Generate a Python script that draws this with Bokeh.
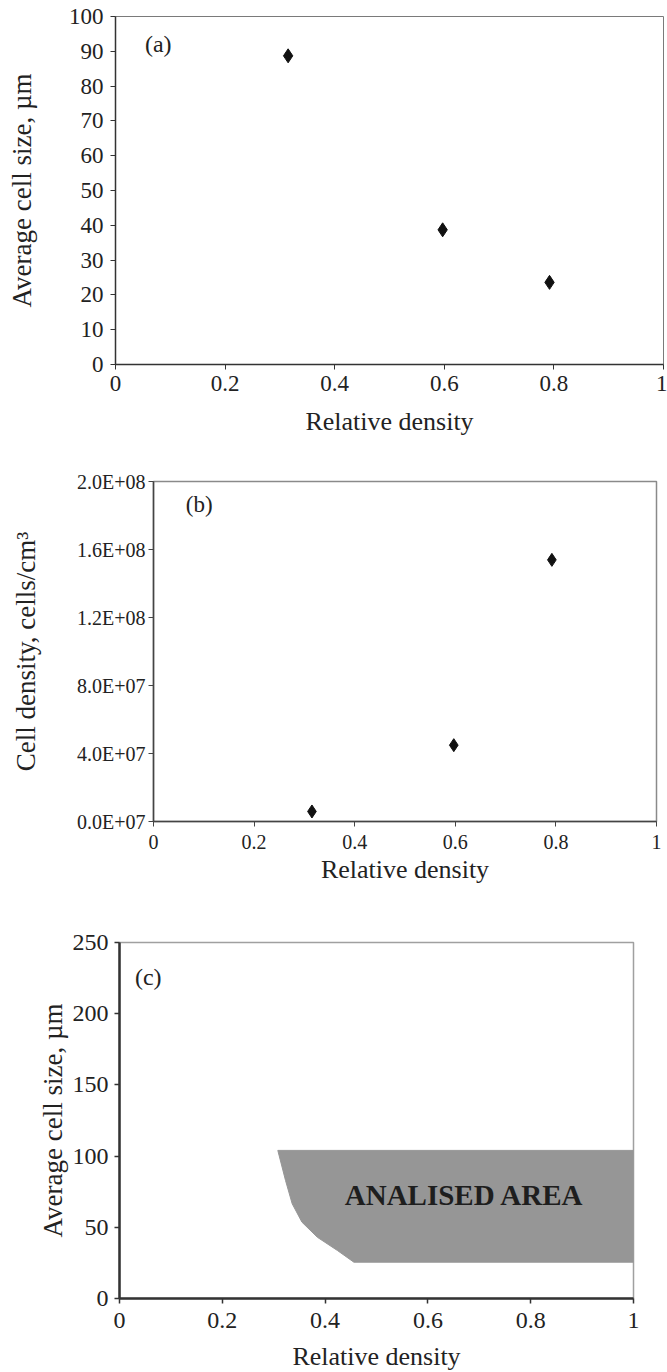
from bokeh.plotting import figure
from bokeh.models import Range1d, FixedTicker, Label
from bokeh.embed import file_html
from bokeh.resources import INLINE

# ---------------- data ----------------
rel_density = [0.315, 0.597, 0.792]
avg_cell_size = [88.7, 38.7, 23.6]
cell_density = [5.9e6, 4.49e7, 1.539e8]

area_x = [0.308, 1.0, 1.0, 0.456, 0.424, 0.385, 0.355, 0.336, 0.323]
area_y = [104.0, 104.0, 25.5, 25.5, 33.7, 43.0, 53.6, 66.5, 82.9]

x_ticks = [0, 0.2, 0.4, 0.6, 0.8, 1.0]
x_tick_labels = ["0", "0.2", "0.4", "0.6", "0.8", "1"]
a_yticks = [0, 10, 20, 30, 40, 50, 60, 70, 80, 90, 100]
b_yticks = [0, 4e7, 8e7, 1.2e8, 1.6e8, 2e8]
b_ytick_labels = ["0.0E+07", "4.0E+07", "8.0E+07", "1.2E+08", "1.6E+08", "2.0E+08"]
c_yticks = [0, 50, 100, 150, 200, 250]

FONT = "Liberation Serif"
TXT = "#222222"


def make_fig(fw, fh, left, right, top, bottom, yr):
    p = figure(frame_width=fw, frame_height=fh,
               min_border_left=left, min_border_right=right,
               min_border_top=top, min_border_bottom=bottom,
               x_range=Range1d(0, 1), y_range=yr,
               output_backend="svg", toolbar_location=None,
               background_fill_color="white", border_fill_color="white")
    p.xgrid.visible = False
    p.ygrid.visible = False
    for ax in (p.xaxis[0], p.yaxis[0]):
        ax.major_label_text_font = FONT
        ax.axis_label_text_font = FONT
        ax.axis_label_text_font_style = "normal"
        ax.major_label_text_color = TXT
        ax.axis_label_text_color = TXT
        ax.minor_tick_line_color = None
        ax.major_tick_in = 0
        ax.major_tick_out = 5
    p.xaxis[0].ticker = FixedTicker(ticks=x_ticks)
    p.xaxis[0].major_label_overrides = {t: l for t, l in zip(x_ticks, x_tick_labels)}
    p.xaxis[0].axis_label = "Relative density"
    p.xaxis[0].axis_label_text_font_size = "26px"
    p.yaxis[0].axis_label_text_font_size = "27px"
    return p


# ---------------- panel (a) ----------------
pa = make_fig(548, 348, 115, 4, 16, 86, Range1d(0, 100))
pa.yaxis[0].ticker = FixedTicker(ticks=a_yticks)
pa.yaxis[0].axis_label = "Average cell size, \u00b5m"
for ax in (pa.xaxis[0], pa.yaxis[0]):
    ax.major_label_text_font_size = "23px"
    ax.axis_line_color = "#333333"
    ax.axis_line_width = 1.5
    ax.major_tick_line_color = "#333333"
pa.xaxis[0].major_label_standoff = 6
pa.xaxis[0].axis_label_standoff = 13
pa.yaxis[0].major_label_standoff = 7
pa.yaxis[0].axis_label_standoff = 29
pa.outline_line_color = "#7a7a7a"
pa.outline_line_width = 1
pa.scatter(rel_density, avg_cell_size, marker="diamond", size=14,
           fill_color="#111111", line_color="#111111")
pa.add_layout(Label(x=0.078, y=92, text="(a)", text_font=FONT, text_font_size="24px",
                    text_color=TXT, text_align="center", text_baseline="middle"))

# ---------------- panel (b) ----------------
pb = make_fig(503, 340, 153, 11, 31, 89, Range1d(0, 2e8))
pb.yaxis[0].ticker = FixedTicker(ticks=b_yticks)
pb.yaxis[0].major_label_overrides = {t: l for t, l in zip(b_yticks, b_ytick_labels)}
pb.yaxis[0].axis_label = "Cell density, cells/cm\u00b3"
for ax in (pb.xaxis[0], pb.yaxis[0]):
    ax.major_label_text_font_size = "20px"
    ax.axis_line_color = "#444444"
    ax.axis_line_width = 1.5
    ax.major_tick_line_color = "#444444"
pb.xaxis[0].major_label_standoff = 8
pb.xaxis[0].axis_label_standoff = 3
pb.yaxis[0].major_label_standoff = 3
pb.yaxis[0].axis_label_standoff = 33
pb.outline_line_color = "#8a8a8a"
pb.outline_line_width = 1.5
pb.scatter(rel_density, cell_density, marker="diamond", size=13,
           fill_color="#111111", line_color="#111111")
pb.add_layout(Label(x=0.091, y=1.865e8, text="(b)", text_font=FONT, text_font_size="23px",
                    text_color=TXT, text_align="center", text_baseline="middle"))

# ---------------- panel (c) ----------------
pc = make_fig(514, 356, 119, 34, 32, 74, Range1d(0, 250))
pc.yaxis[0].ticker = FixedTicker(ticks=c_yticks)
pc.yaxis[0].axis_label = "Average cell size, \u00b5m"
for ax in (pc.xaxis[0], pc.yaxis[0]):
    ax.major_label_text_font_size = "24px"
    ax.axis_line_color = "#333333"
    ax.axis_line_width = 2.5
    ax.major_tick_line_color = "#333333"
    ax.major_tick_line_width = 1.5
pc.xaxis[0].major_label_standoff = 9
pc.xaxis[0].axis_label_standoff = 11
pc.yaxis[0].major_label_standoff = 6
pc.yaxis[0].axis_label_standoff = 2
pc.outline_line_color = "#a0a0a0"
pc.outline_line_width = 1.5
pc.patch(area_x, area_y, fill_color="#969696", line_color="#969696", line_width=1)
pc.add_layout(Label(x=0.671, y=73, text="ANALISED AREA", text_font=FONT,
                    text_font_size="29px", text_font_style="bold", text_color="#1e1e1e",
                    text_align="center", text_baseline="middle"))
pc.add_layout(Label(x=0.056, y=226, text="(c)", text_font=FONT, text_font_size="24px",
                    text_color=TXT, text_align="center", text_baseline="middle"))

# separate roots so that the three frames are not aligned to each other
open("out.html", "w").write(file_html([pa, pb, pc], INLINE))
